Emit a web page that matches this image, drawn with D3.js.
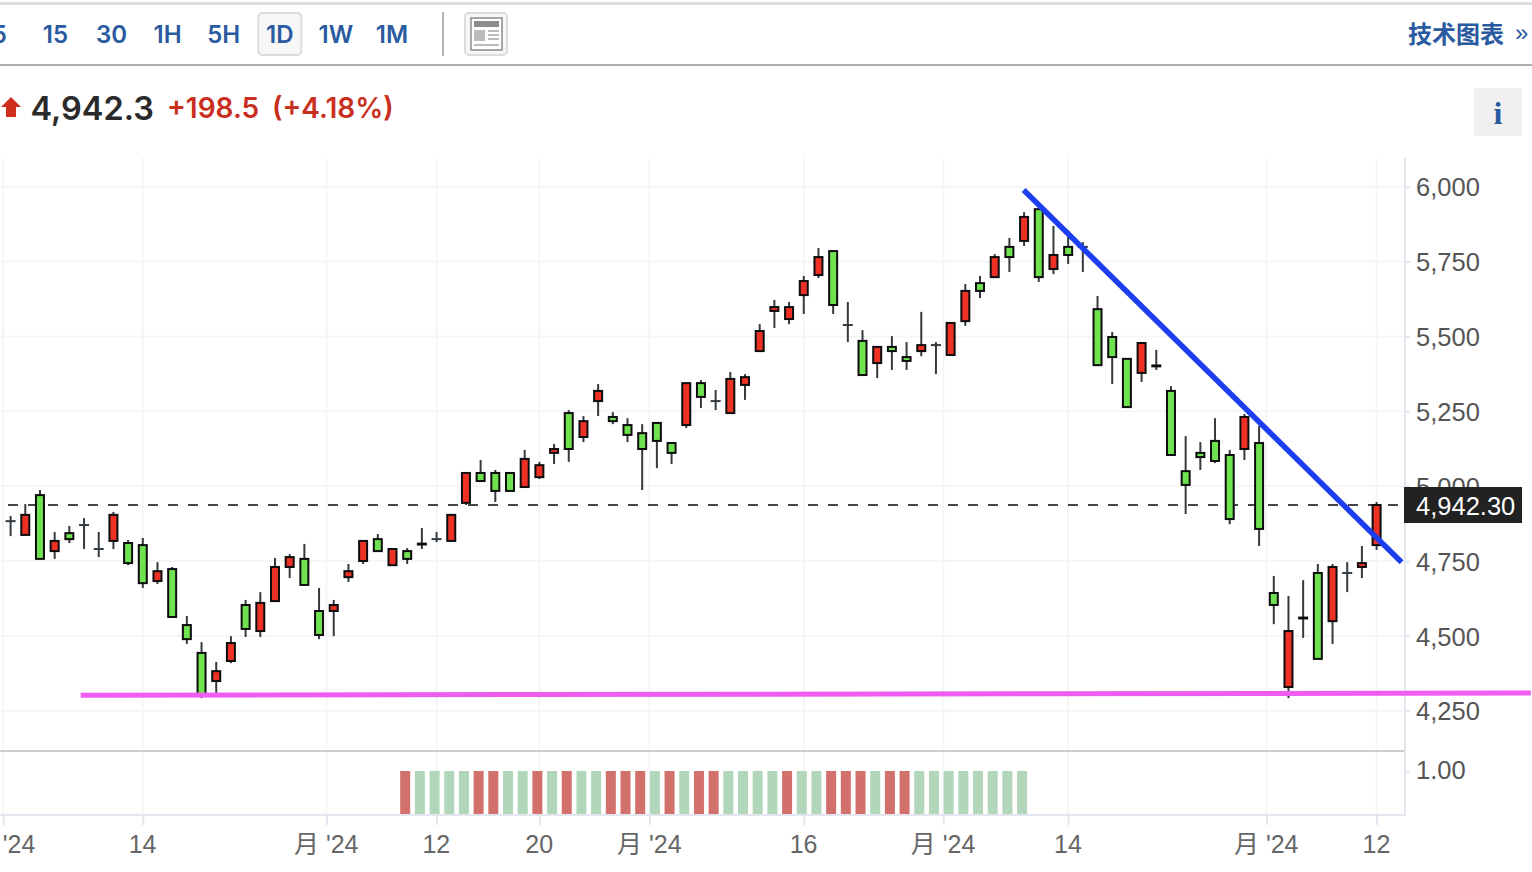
<!DOCTYPE html>
<html>
<head>
<meta charset="utf-8">
<title>Candles</title>
<script src="https://cdn.jsdelivr.net/npm/d3@7/dist/d3.min.js"></script>
<style>
  html, body { margin: 0; padding: 0; background: #fff; overflow: hidden; }
  svg { display: block; }
  text { font-family: "Liberation Sans", Arial, sans-serif; }
  .toolbar text, .quote text { font-family: Inter, "Liberation Sans", sans-serif; }
</style>
</head>
<body>
<div id="chart"></div>
<script>
// one value per candle
var opens = [
  4883, 4837, 4970, 4783, 4843, 4870, 4790, 4817, 4810, 4803,
  4683, 4723, 4536, 4443, 4349, 4416, 4603, 4516, 4616, 4730,
  4757, 4583, 4583, 4696, 4750, 4823, 4736, 4783, 4805, 4823,
  4817, 4944, 5044, 5044, 5044, 4997, 5030, 5111, 5244, 5164,
  5284, 5231, 5204, 5177, 5211, 5144, 5204, 5344, 5284, 5244,
  5338, 5451, 5585, 5558, 5638, 5705, 5785, 5538, 5485, 5411,
  5465, 5431, 5451, 5471, 5438, 5551, 5678, 5698, 5799, 5819,
  5925, 5725, 5799, 5799, 5591, 5498, 5425, 5378, 5400, 5318,
  5050, 5111, 5151, 5104, 5124, 5144, 4643, 4329, 4558, 4710,
  4549, 4710, 4730, 4803
];
var highs = [
  4900, 4940, 4987, 4847, 4867, 4893, 4847, 4914, 4820, 4827,
  4746, 4730, 4566, 4479, 4413, 4499, 4620, 4646, 4760, 4773,
  4807, 4660, 4620, 4740, 4817, 4840, 4790, 4793, 4860, 4847,
  4904, 5044, 5087, 5054, 5044, 5121, 5081, 5141, 5254, 5234,
  5341, 5247, 5227, 5207, 5211, 5144, 5344, 5354, 5321, 5381,
  5374, 5541, 5622, 5615, 5702, 5795, 5785, 5615, 5521, 5465,
  5501, 5481, 5582, 5481, 5545, 5675, 5702, 5775, 5829, 5915,
  5925, 5869, 5855, 5815, 5635, 5515, 5425, 5478, 5455, 5334,
  5167, 5147, 5227, 5121, 5241, 5201, 4700, 4633, 4686, 4740,
  4740, 4746, 4800, 4947
];
var lows = [
  4833, 4837, 4757, 4757, 4810, 4790, 4763, 4790, 4736, 4660,
  4673, 4563, 4473, 4292, 4309, 4409, 4496, 4496, 4616, 4693,
  4670, 4489, 4499, 4680, 4740, 4783, 4736, 4740, 4790, 4813,
  4817, 4937, 5017, 4947, 4984, 4997, 5024, 5074, 5081, 5147,
  5234, 5207, 5147, 4987, 5060, 5074, 5194, 5261, 5254, 5244,
  5288, 5451, 5528, 5541, 5575, 5695, 5575, 5481, 5371, 5361,
  5388, 5388, 5434, 5374, 5438, 5535, 5628, 5698, 5715, 5802,
  5682, 5708, 5742, 5715, 5404, 5341, 5264, 5348, 5388, 5104,
  4907, 5054, 5077, 4873, 5087, 4800, 4539, 4292, 4493, 4423,
  4473, 4646, 4693, 4787
];
var closes = [
  4883, 4904, 4757, 4817, 4823, 4870, 4790, 4904, 4743, 4676,
  4716, 4563, 4489, 4302, 4382, 4476, 4523, 4610, 4730, 4763,
  4670, 4503, 4603, 4716, 4817, 4783, 4790, 4757, 4808, 4823,
  4904, 5044, 5017, 4984, 4984, 5091, 5070, 5124, 5124, 5217,
  5318, 5217, 5171, 5124, 5151, 5111, 5344, 5298, 5284, 5358,
  5364, 5518, 5598, 5598, 5685, 5765, 5605, 5538, 5371, 5465,
  5451, 5418, 5471, 5471, 5545, 5652, 5652, 5765, 5765, 5899,
  5698, 5772, 5772, 5799, 5404, 5431, 5264, 5478, 5403, 5104,
  5004, 5097, 5084, 4890, 5231, 4857, 4603, 4516, 4561, 4423,
  4730, 4710, 4743, 4937
];

// lower panel, starts at candle 27
var signalStart = 27;
var signals = "RGGGGRRGGRGRGGRRRGRGRRGGGGRGGRRRGRRGGGGGGGG".split("");
var signalValue = 1;

var priceTicks = [4250, 4500, 4750, 5000, 5250, 5500, 5750, 6000];
var signalTicks = [1];
var dateTicks = [-0.5, 9, 21.5, 29, 36, 43.5, 54, 63.5, 72, 85.5, 93];
var dateLabels = ["月 '24", "14", "月 '24", "12", "20", "月 '24", "16", "月 '24", "14", "月 '24", "12"];

var lastLevel = 4937;
var lastLabel = "4,942.30";
// hand drawn lines: [candle index, price]
var trendLine = [[68.97, 5989], [94.7, 4746]];
var supportLine = [[4.77, 4302], [103.5, 4309]];

var intervals = ["5", "15", "30", "1H", "5H", "1D", "1W", "1M"];
var activeInterval = "1D";

var width = 1532;
var height = 872;
var axisX = 1405;
var up = "#ee3124", down = "#6fe24f";
var blue = "#2a5a9f";

var svg = d3.select("#chart").append("svg")
  .attr("width", width)
  .attr("height", height);

var x = d3.scaleLinear().domain([0, 93]).range([10.6, 1376.6]);
var y = d3.scaleLinear().domain([4250, 6000]).range([710.7, 186.7]);
var ySignal = d3.scaleLinear().domain([0, 1]).range([814, 771]);

// toolbar
var toolbar = svg.append("g").attr("class", "toolbar");
toolbar.append("rect").attr("x", 0).attr("y", 2).attr("width", width).attr("height", 3).attr("fill", "#dedede");
toolbar.append("rect").attr("x", 0).attr("y", 64).attr("width", width).attr("height", 2).attr("fill", "#b0b0b0");

var xInterval = d3.scalePoint().domain(intervals).range([-0.7, 392]);
toolbar.append("rect")
  .attr("x", xInterval(activeInterval) - 21.5).attr("y", 13)
  .attr("width", 43).attr("height", 42).attr("rx", 4)
  .attr("fill", "#f7f7f7").attr("stroke", "#dcdcdc").attr("stroke-width", 2);
toolbar.selectAll("text.interval")
  .data(intervals)
  .enter()
  .append("text")
  .attr("class", "interval")
  .attr("x", function(d){ return xInterval(d); })
  .attr("y", 43)
  .attr("text-anchor", "middle")
  .attr("font-size", 24)
  .attr("font-weight", 600)
  .attr("fill", blue)
  .text(function(d){ return d; });

toolbar.append("rect").attr("x", 442).attr("y", 12).attr("width", 2).attr("height", 44).attr("fill", "#b4b4b4");

// layout icon
var icon = toolbar.append("g").attr("transform", "translate(465, 13)");
icon.append("rect").attr("x", 0).attr("y", 0).attr("width", 42).attr("height", 42).attr("rx", 4)
  .attr("fill", "#f7f7f7").attr("stroke", "#dcdcdc").attr("stroke-width", 2);
icon.append("rect").attr("x", 6).attr("y", 5).attr("width", 31).attr("height", 32)
  .attr("fill", "#fff").attr("stroke", "#8c8c8c").attr("stroke-width", 1.5);
icon.append("rect").attr("x", 9).attr("y", 8).attr("width", 25).attr("height", 6).attr("fill", "#8c8c8c");
icon.append("rect").attr("x", 9).attr("y", 17).attr("width", 11).attr("height", 11).attr("fill", "#bbb");
[17, 21, 25].forEach(function(t){
  icon.append("rect").attr("x", 23).attr("y", t).attr("width", 11).attr("height", 2).attr("fill", "#bbb");
});
icon.append("rect").attr("x", 9).attr("y", 31).attr("width", 25).attr("height", 2).attr("fill", "#bbb");

toolbar.append("text")
  .attr("x", 1408).attr("y", 43)
  .attr("font-size", 24).attr("font-weight", 700)
  .style("font-family", '"Noto Sans CJK SC"')
  .attr("fill", blue)
  .text("技术图表");
toolbar.append("text")
  .attr("x", 1515).attr("y", 41)
  .attr("font-size", 24)
  .style("font-family", '"Liberation Sans"')
  .attr("fill", blue)
  .text("»");

// quote line
var quote = svg.append("g").attr("class", "quote");
quote.append("path")
  .attr("d", d3.line()([[11, 97], [21, 107], [16, 107], [16, 117], [6, 117], [6, 107], [1, 107]]) + "Z")
  .attr("fill", "#cf2e1c");
quote.append("text")
  .attr("x", 30.5).attr("y", 120)
  .attr("font-size", 32.5).attr("font-weight", 600)
  .attr("fill", "#2a2a2a")
  .text("4,942.3");
quote.append("text")
  .attr("x", 167).attr("y", 118)
  .attr("font-size", 28).attr("font-weight", 600)
  .attr("fill", "#c92f1e")
  .text("+198.5");
quote.append("text")
  .attr("x", 272).attr("y", 118)
  .attr("font-size", 28).attr("font-weight", 600)
  .attr("fill", "#c92f1e")
  .text("(+4.18%)");
quote.append("rect").attr("x", 1474).attr("y", 88).attr("width", 48).attr("height", 48).attr("fill", "#f0f0f0");
quote.append("text")
  .attr("x", 1498).attr("y", 124)
  .attr("text-anchor", "middle")
  .attr("font-size", 32).attr("font-weight", 700)
  .style("font-family", '"Liberation Serif"')
  .attr("fill", blue)
  .text("i");

// grid
var grid = svg.append("g");
grid.selectAll("line.gridY")
  .data(priceTicks)
  .enter()
  .append("line")
  .attr("class", "gridY")
  .attr("x1", 0).attr("x2", axisX)
  .attr("y1", function(d){ return y(d); })
  .attr("y2", function(d){ return y(d); })
  .attr("stroke", "#f5f5f6").attr("stroke-width", 2);
grid.selectAll("line.gridX")
  .data(dateTicks)
  .enter()
  .append("line")
  .attr("class", "gridX")
  .attr("x1", function(d){ return x(d); })
  .attr("x2", function(d){ return x(d); })
  .attr("y1", 158).attr("y2", 815)
  .attr("stroke", "#f5f5f6").attr("stroke-width", 2);

// panel borders
svg.append("rect").attr("x", 0).attr("y", 750).attr("width", axisX).attr("height", 2).attr("fill", "#cdcdcd");
svg.append("rect").attr("x", 0).attr("y", 814).attr("width", axisX + 1).attr("height", 2).attr("fill", "#e3e6ee");

// lower panel bars
svg.selectAll("rect.signal")
  .data(signals)
  .enter()
  .append("rect")
  .attr("class", "signal")
  .attr("x", function(d, i){ return x(signalStart + i) - 7; })
  .attr("y", ySignal(signalValue))
  .attr("width", 10)
  .attr("height", ySignal(0) - ySignal(signalValue))
  .attr("fill", function(d){ return d == "R" ? "#d2706c" : "#b1d6ba"; });

// last price line under the candles
svg.append("line")
  .attr("x1", 8).attr("x2", axisX)
  .attr("y1", y(lastLevel)).attr("y2", y(lastLevel))
  .attr("stroke", "#454545").attr("stroke-width", 2)
  .attr("stroke-dasharray", "10 10");

// candles
var candles = svg.selectAll("g.candle")
  .data(d3.range(opens.length))
  .enter()
  .append("g")
  .attr("class", "candle");

candles.append("line")
  .attr("x1", function(i){ return x(i); })
  .attr("x2", function(i){ return x(i); })
  .attr("y1", function(i){ return y(highs[i]); })
  .attr("y2", function(i){ return y(lows[i]); })
  .attr("stroke", "#343a40").attr("stroke-width", 2);

// open == close has no body, only a small dash
candles.filter(function(i){ return opens[i] == closes[i]; })
  .append("line")
  .attr("x1", function(i){ return x(i) - 5; })
  .attr("x2", function(i){ return x(i) + 5; })
  .attr("y1", function(i){ return y(opens[i]); })
  .attr("y2", function(i){ return y(opens[i]); })
  .attr("stroke", "#343a40").attr("stroke-width", 2);

candles.filter(function(i){ return opens[i] != closes[i]; })
  .append("rect")
  .attr("x", function(i){ return x(i) - 4; })
  .attr("width", 8)
  .attr("y", function(i){ return y(Math.max(opens[i], closes[i])); })
  .attr("height", function(i){ return Math.abs(y(opens[i]) - y(closes[i])); })
  .attr("fill", function(i){ return closes[i] > opens[i] ? up : down; })
  .attr("stroke", "#0d0d0d").attr("stroke-width", 2);

// axes
var yAxis = d3.axisRight(y)
  .tickValues(priceTicks)
  .tickFormat(d3.format(","))
  .tickSize(5)
  .tickPadding(6);
var yAxisSignal = d3.axisRight(ySignal)
  .tickValues(signalTicks)
  .tickFormat(d3.format(".2f"))
  .tickSize(5)
  .tickPadding(6);
var xAxis = d3.axisBottom(x)
  .tickValues(dateTicks)
  .tickFormat(function(d, i){ return dateLabels[i]; })
  .tickSize(10)
  .tickPadding(10);

var styleAxis = function(g, color) {
  g.select(".domain").remove();
  g.selectAll(".tick line").attr("stroke", "#e3e6ee").attr("stroke-width", 2);
  g.selectAll(".tick text")
    .attr("font-size", 25.5)
    .attr("fill", color)
    .style("font-family", '"Liberation Sans", "Noto Sans CJK SC"');
};

svg.append("g")
  .attr("transform", "translate(" + axisX + ",0)")
  .call(yAxis)
  .call(styleAxis, "#555")
  .selectAll(".tick text").attr("dy", "0.36em");
svg.append("g")
  .attr("transform", "translate(" + axisX + ",0)")
  .call(yAxisSignal)
  .call(styleAxis, "#555")
  .selectAll(".tick text").attr("dy", "0.3em");
svg.append("g")
  .attr("transform", "translate(0,815)")
  .call(xAxis)
  .call(styleAxis, "#666")
  .selectAll(".tick text").attr("font-size", 25).attr("dx", -0.7);

svg.append("rect").attr("x", axisX - 1).attr("y", 158).attr("width", 2).attr("height", 658).attr("fill", "#e3e6ee");

// price label over the axis
svg.append("rect").attr("x", 1404).attr("y", 487).attr("width", 118).attr("height", 36).attr("fill", "#222");
svg.append("text")
  .attr("x", 1416).attr("y", 515)
  .attr("font-size", 25.5)
  .attr("fill", "#fff")
  .text(lastLabel);

// drawn lines on top of everything
var line = d3.line()
  .x(function(d){ return x(d[0]); })
  .y(function(d){ return y(d[1]); });

svg.append("path")
  .attr("d", line(trendLine))
  .attr("fill", "none").attr("stroke", "#1c3ef0").attr("stroke-width", 5.5);
svg.append("path")
  .attr("d", line(supportLine))
  .attr("fill", "none").attr("stroke", "#ee5df0").attr("stroke-width", 5);
</script>
</body>
</html>
